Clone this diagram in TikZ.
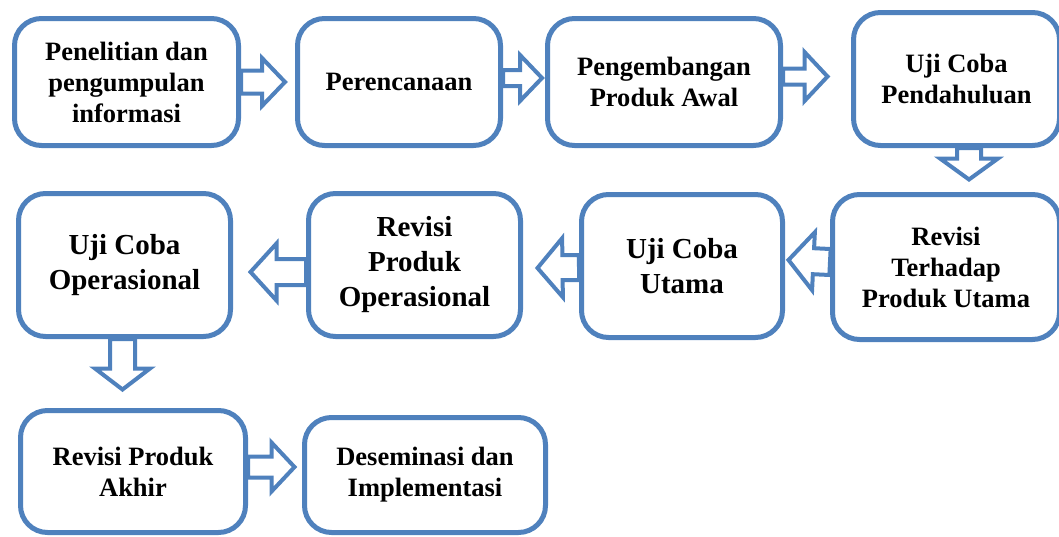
\documentclass[tikz,border=0pt]{standalone}
\usepackage{fontspec}
\setmainfont{Liberation Serif}
\usetikzlibrary{calc}
\definecolor{boxblue}{HTML}{4F81BD}
\tikzset{
  stage/.style={draw=boxblue, line width=5pt, fill=white, rounded corners=27pt,
    align=center, inner sep=0pt, font=\fontsize{26.5}{31}\selectfont\bfseries},
  bigstage/.style={stage, font=\fontsize{29}{35}\selectfont\bfseries},
  ar shaft/.store in=\arshaft, ar shaft=12pt,
  ar head/.store in=\arhead, ar head=28pt,
  ar len/.store in=\arlen, ar len=25pt,
  blockarrow/.style={draw=boxblue, line width=4pt, fill=white,
    to path={let \p1=(\tikztostart), \p2=(\tikztotarget), \p3=($(\p2)!\arlen!(\p1)$) in
      ($(\p1)!\arshaft!90:(\p2)$) -- ($(\p3)!\arshaft!90:(\p2)$) -- ($(\p3)!\arhead!90:(\p2)$)
      -- (\p2) -- ($(\p3)!\arhead!-90:(\p2)$) -- ($(\p3)!\arshaft!-90:(\p2)$)
      -- ($(\p1)!\arshaft!-90:(\p2)$) -- cycle}}
}

\begin{document}
\begin{tikzpicture}[x=1pt, y=-1pt]
\useasboundingbox (0,0) rectangle (1059,536);
% first row
\node[stage, minimum width=224pt, minimum height=127pt] (b1) at (126.5,82) {Penelitian dan\\pengumpulan\\informasi};
\node[stage, minimum width=203pt, minimum height=127pt] (b2) at (399,82) {Perencanaan};
\node[stage, minimum width=233pt, minimum height=127pt] (b3) at (664,82) {Pengembangan\\Produk Awal};
\node[stage, minimum width=206pt, minimum height=133pt] (b4) at (956.5,79) {Uji Coba\\Pendahuluan};
% second row, right to left
\node[stage, minimum width=227pt, minimum height=145pt] (b5) at (946,267) {Revisi\\Terhadap\\Produk Utama};
\node[bigstage, minimum width=201pt, minimum height=143pt] (b6) at (682,266) {Uji Coba\\Utama};
\node[bigstage, minimum width=212pt, minimum height=143pt] (b7) at (414.5,265) {Revisi\\Produk\\Operasional};
\node[bigstage, minimum width=212pt, minimum height=143pt] (b8) at (124.5,265) {Uji Coba\\Operasional};
% last row
\node[stage, minimum width=225pt, minimum height=122pt] (b9) at (133,471.5) {Revisi Produk\\Akhir};
\node[stage, minimum width=241pt, minimum height=115pt] (b10) at (425,475) {Deseminasi dan\\Implementasi};

\draw[blockarrow, ar shaft=11.5pt, ar head=24pt, ar len=23pt] (b1.east) to ([xshift=-10pt]b2.west);
\draw[blockarrow, ar shaft=8pt, ar head=23pt, ar len=22pt] ([yshift=4pt]b2.east) to ([xshift=-3pt,yshift=4pt]b3.west);
\draw[blockarrow, ar shaft=8pt, ar head=24.5pt, ar len=23pt] ([yshift=5.5pt]b3.east) to ([xshift=-23.5pt,yshift=2.5pt]b4.west);
\draw[blockarrow, ar shaft=12pt, ar head=29pt, ar len=21pt] ([xshift=12.5pt]b4.south) to ([xshift=23pt,yshift=12.5pt]b5.north);
\draw[blockarrow, ar shaft=13pt, ar head=29pt, ar len=25pt] ([yshift=5pt]b5.west) to ([xshift=3.5pt,yshift=6pt]b6.east);
\draw[blockarrow, ar shaft=12.5pt, ar head=29.5pt, ar len=25pt] ([yshift=-1.5pt]b6.west) to ([xshift=14.5pt,yshift=-3pt]b7.east);
\draw[blockarrow, ar shaft=13pt, ar head=28.5pt, ar len=26pt] ([yshift=-7pt]b7.west) to ([xshift=17.5pt,yshift=-7pt]b8.east);
\draw[blockarrow, ar shaft=12.5pt, ar head=27.5pt, ar len=21pt] ([xshift=-2pt]b8.south) to ([xshift=-10.5pt,yshift=18.5pt]b9.north);
\draw[blockarrow, ar shaft=10.5pt, ar head=24.5pt, ar len=23pt] ([yshift=4.5pt]b9.east) to ([xshift=-7.5pt,yshift=8pt]b10.west);
\end{tikzpicture}
\end{document}
